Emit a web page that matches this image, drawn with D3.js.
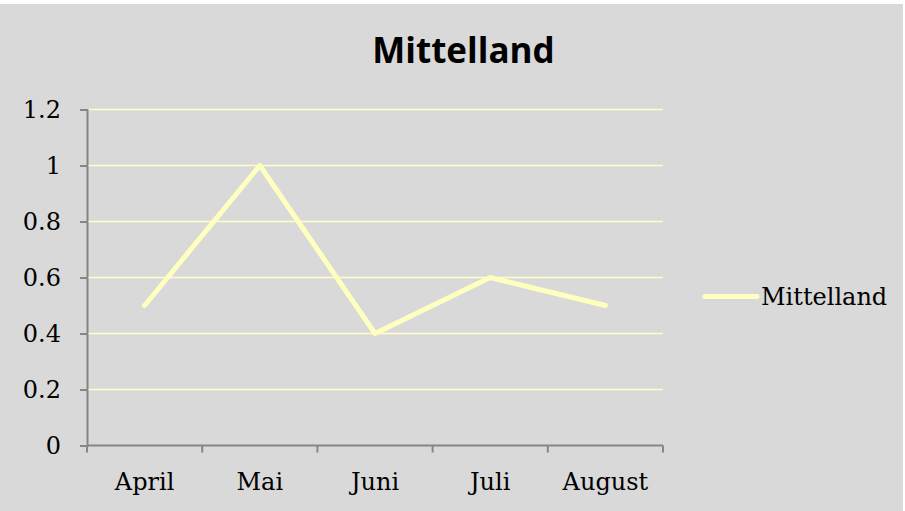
<!DOCTYPE html>
<html><head><meta charset="utf-8">
<script src="https://cdn.jsdelivr.net/npm/d3@7"></script>
<style>html,body{margin:0;padding:0;background:#fff;overflow:hidden}</style>
</head><body>
<svg id="c" width="905" height="511"></svg>
<script>
const categories = ["April", "Mai", "Juni", "Juli", "August"];
const values = [0.5, 1, 0.4, 0.6, 0.5];
const yTicks = [0, 0.2, 0.4, 0.6, 0.8, 1, 1.2];
const seriesName = "Mittelland";
const chartTitle = "Mittelland";

(function () {
const svg = d3.select("#c");
svg.append("rect").attr("x", 0).attr("y", 4).attr("width", 903).attr("height", 507).attr("fill", "#d9d9d9");

const mLeft = 87, mRight = 663, mTop = 109.5, mBottom = 445.5;
const x = d3.scaleBand().domain(categories).range([mLeft, mRight]).padding(0);
const y = d3.scaleLinear().domain([0, 1.2]).range([mBottom, mTop]);
const serif = "'DejaVu Serif', serif";
const fs = 24;
const axisColor = "#868686";
const lineColor = "#ffffc0";

// gridlines
svg.append("g").selectAll("line").data(yTicks.filter(d => d > 0)).join("line")
  .attr("x1", mLeft).attr("x2", mRight)
  .attr("y1", d => y(d)).attr("y2", d => y(d))
  .attr("stroke", "#ffffcc").attr("stroke-width", 1.5);

// y axis
const ya = svg.append("g").attr("transform", `translate(${mLeft},0)`)
  .call(d3.axisLeft(y).tickValues(yTicks).tickSize(7).tickPadding(19).tickFormat(d => String(+d.toFixed(1))));
ya.select(".domain").attr("stroke", axisColor).attr("stroke-width", 2);
ya.selectAll(".tick line").attr("stroke", axisColor).attr("stroke-width", 2);
ya.selectAll("text").attr("font-family", serif).attr("font-size", fs).attr("fill", "#000");

// x axis
const xa = svg.append("g").attr("transform", `translate(0,${mBottom})`)
  .call(d3.axisBottom(x).tickSize(0).tickPadding(27));
xa.select(".domain").attr("stroke", axisColor).attr("stroke-width", 2).attr("d", `M${mLeft},0H${mRight}`);
xa.selectAll(".tick line").remove();
xa.selectAll("text").attr("font-family", serif).attr("font-size", fs).attr("fill", "#000");
const bounds = categories.map(c => x(c)).concat([mRight]);
svg.append("g").selectAll("line").data(bounds).join("line")
  .attr("x1", d => d).attr("x2", d => d).attr("y1", mBottom).attr("y2", mBottom + 7)
  .attr("stroke", axisColor).attr("stroke-width", 2);

// line
const line = d3.line().x((d, i) => x(categories[i]) + x.bandwidth() / 2).y(d => y(d));
svg.append("path").datum(values).attr("d", line)
  .attr("fill", "none").attr("stroke", lineColor).attr("stroke-width", 5)
  .attr("stroke-linejoin", "round").attr("stroke-linecap", "round");

// title
svg.append("text").attr("x", 463.5).attr("y", 63).attr("text-anchor", "middle")
  .attr("font-family", "'Open Sans', sans-serif").attr("font-weight", "bold").attr("font-size", 35)
  .attr("fill", "#000").text(chartTitle);

// legend
svg.append("line").attr("x1", 705).attr("x2", 757).attr("y1", 296.5).attr("y2", 296.5)
  .attr("stroke", lineColor).attr("stroke-width", 5).attr("stroke-linecap", "round");
svg.append("text").attr("x", 761).attr("y", 305).attr("font-family", serif).attr("font-size", fs)
  .attr("fill", "#000").text(seriesName);
})();
</script>
</body></html>
